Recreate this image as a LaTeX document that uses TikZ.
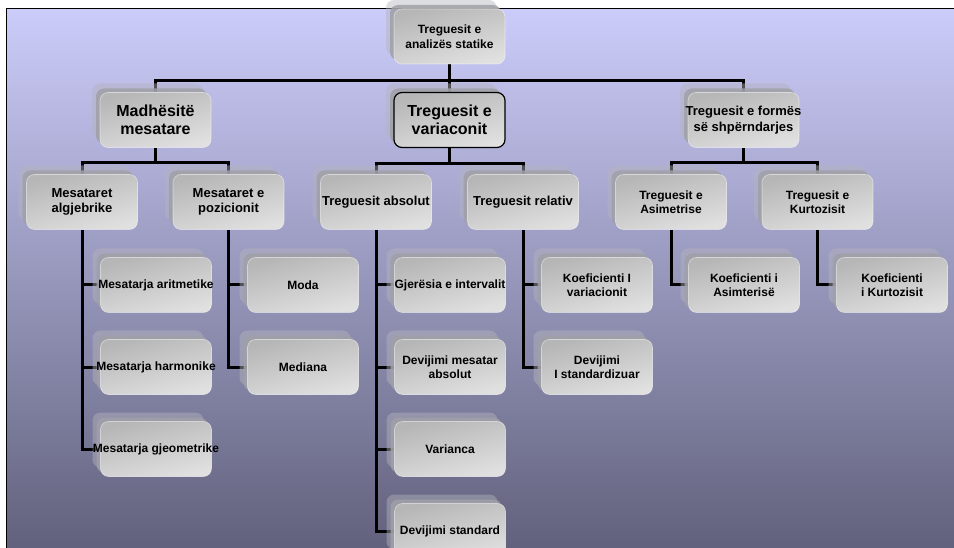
\documentclass[tikz,border=0pt]{standalone}
\usepackage{fontspec}
\setmainfont{Liberation Sans}
\usepackage{xcolor}
\usetikzlibrary{shadows}

\definecolor{bgtop}{RGB}{204,204,250}
\definecolor{bgmid}{RGB}{165,165,208}
\definecolor{bgbot}{RGB}{95,95,122}
\definecolor{boxtop}{RGB}{182,182,182}
\definecolor{boxbot}{RGB}{224,224,224}
\definecolor{layerin}{RGB}{160,160,168}
\definecolor{layerout}{RGB}{180,180,190}

\pgfdeclarelayer{back}
\pgfdeclarelayer{links}
\pgfsetlayers{back,links,main}

\tikzset{
    box/.style={rectangle, rounded corners=8pt, minimum width=111pt, minimum height=55pt,
        inner xsep=-12pt, align=center, top color=boxtop, bottom color=boxbot, shading angle=15,
        draw=white, draw opacity=0.5, line width=0.6pt,
        general shadow={shadow xshift=-8pt, shadow yshift=9pt, fill=layerout, fill opacity=0.45},
        general shadow={shadow xshift=-4pt, shadow yshift=4pt, fill=layerin, fill opacity=0.85}},
    big/.style={font=\bfseries\fontsize{16}{18}\selectfont},
    mid/.style={font=\bfseries\fontsize{13}{15.5}\selectfont},
    small/.style={font=\bfseries\fontsize{12}{14.5}\selectfont},
    link/.style={line width=3pt, black},
}

\begin{document}
\begin{tikzpicture}[x=1pt, y=-1pt]

    \useasboundingbox (0,0) rectangle (954,548);

    % Background with the frame
    \begin{pgfonlayer}{back}
    \shade[top color=bgtop, middle color=bgmid, bottom color=bgbot] (6,9) rectangle (960,560);
    \draw[line width=1pt] (960,9) -- (6,9) -- (6,560);
    \end{pgfonlayer}

    % Top box
    \node[box, small] (root) at (449.5,36.5) {Treguesit e\\analizës statike};


    \node[box, big] (mad) at (155.5,120) {Madhësitë\\mesatare};

    \node[box, big, draw=black, draw opacity=1, line width=1.2pt] (var) at (449.5,120) {Treguesit e\\variaconit};

    \node[box, mid] (form) at (743.5,120) {Treguesit e formës\\së shpërndarjes};



    \node[box, mid] (alg) at (82,202) {Mesataret\\algjebrike};

    \node[box, mid] (poz) at (228.5,202) {Mesataret e\\pozicionit};

    \node[box, mid] (abs) at (376,202) {Treguesit absolut};

    \node[box, mid] (rel) at (523,202) {Treguesit relativ};

    \node[box, small] (asim) at (671,202) {Treguesit e\\Asimetrise};

    \node[box, small] (kurt) at (817.5,202) {Treguesit e\\Kurtozisit};



    \node[box, small] (aritm) at (156,285) {Mesatarja aritmetike};

    \node[box, small] (harm) at (156,367) {Mesatarja harmonike};

    \node[box, small] (gjeo) at (156,449) {Mesatarja gjeometrike};


    \node[box, small] (moda) at (303,285) {Moda};

    \node[box, small] (med) at (303,367) {Mediana};


    \node[box, small] (gjer) at (450,285) {Gjerësia e intervalit};

    \node[box, small] (devm) at (450,367) {Devijimi mesatar\\absolut};

    \node[box, small] (varc) at (450,449) {Varianca};

    \node[box, small] (devs) at (450,531) {Devijimi standard};


    \node[box, small] (koefv) at (597,285) {Koeficienti I\\variacionit};

    \node[box, small] (devst) at (597,367) {Devijimi\\I standardizuar};


    \node[box, small] (koefa) at (744,285) {Koeficienti i\\Asimterisë};

    \node[box, small] (koefk) at (892,285) {Koeficienti\\i Kurtozisit};



    % Lines between the boxes
    \begin{pgfonlayer}{links}
    \draw[link] (root.south) -- (var.north);
    \draw[link] (root.south) -- ++(0,16) -| (mad.north);
    \draw[link] (root.south) -- ++(0,16) -| (form.north);

    \draw[link] (mad.south) -- ++(0,15) -| (alg.north);
    \draw[link] (mad.south) -- ++(0,15) -| (poz.north);
    \draw[link] (var.south) -- ++(0,15) -| (abs.north);
    \draw[link] (var.south) -- ++(0,15) -| (rel.north);
    \draw[link] (form.south) -- ++(0,15) -| (asim.north);
    \draw[link] (form.south) -- ++(0,15) -| (kurt.north);

    \draw[link] (alg.south) |- (aritm.west);
    \draw[link] (alg.south) |- (harm.west);
    \draw[link] (alg.south) |- (gjeo.west);

    \draw[link] (poz.south) |- (moda.west);
    \draw[link] (poz.south) |- (med.west);

    \draw[link] (abs.south) |- (gjer.west);
    \draw[link] (abs.south) |- (devm.west);
    \draw[link] (abs.south) |- (varc.west);
    \draw[link] (abs.south) |- (devs.west);

    \draw[link] (rel.south) |- (koefv.west);
    \draw[link] (rel.south) |- (devst.west);

    \draw[link] (asim.south) |- (koefa.west);

    \draw[link] (kurt.south) |- (koefk.west);
    \end{pgfonlayer}

\end{tikzpicture}
\end{document}
